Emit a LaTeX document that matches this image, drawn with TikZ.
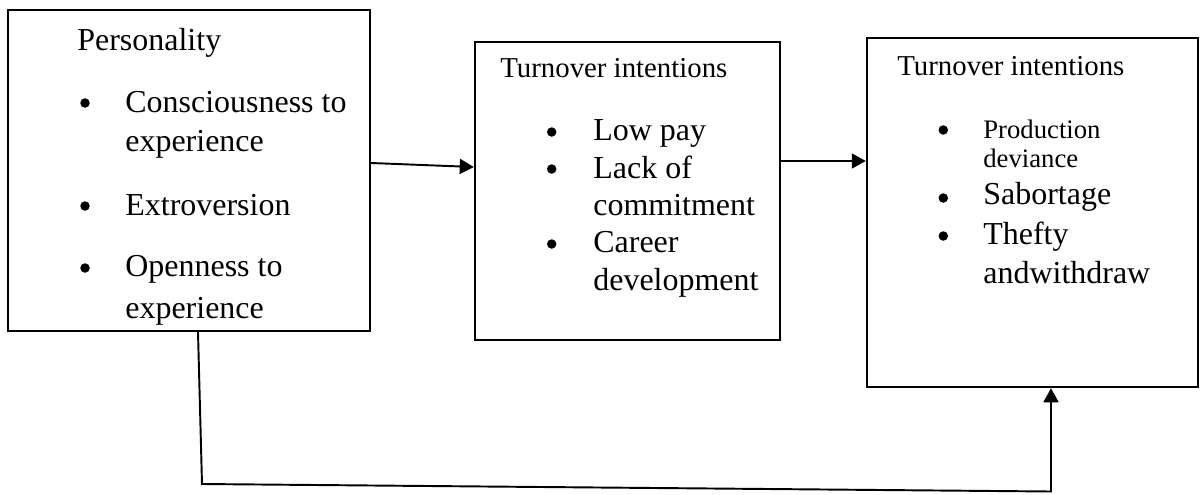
\documentclass[tikz,border=0pt]{standalone}
\usepackage{fontspec}
\setmainfont{Liberation Serif}
\usetikzlibrary{arrows.meta,calc,positioning}

\begin{document}
\begin{tikzpicture}[x=0.02cm, y=-0.02cm,
    box/.style={rectangle, draw=black, line width=1.4pt, inner sep=0pt},
    txt/.style={anchor=base west, inner sep=0pt, font=\fontsize{18.2}{22}\selectfont},
    head/.style={txt, font=\fontsize{16.4}{20}\selectfont},
    small/.style={txt, font=\fontsize{15.2}{18}\selectfont},
    dot/.style={circle, fill=black, inner sep=0pt, minimum size=0.19cm},
    link/.style={line width=1.1pt, -{Triangle[length=8pt, width=8.5pt]}}
]
\useasboundingbox (0,0) rectangle (1200,494);

% Boxes
\node[box, minimum width=7.24cm, minimum height=6.42cm] (pers) at (189,170.5) {};
\node[box, minimum width=6.1cm, minimum height=5.96cm] (turn) at (627.5,191) {};
\node[box, minimum width=6.62cm, minimum height=6.98cm] (behav) at (1032.5,212.5) {};

% Personality
\node[txt] (persT) at (77,50) {Personality};
\node[dot] (p1) at (85,103) {};
\node[txt] (p1a) at (125,112.7) {Consciousness to};
\node[txt] (p1b) at (125,151.7) {experience};
\node[dot] (p2) at (85,206) {};
\node[txt] (p2a) at (125,215) {Extroversion};
\node[dot] (p3) at (85,268) {};
\node[txt] (p3a) at (125,276.7) {Openness to};
\node[txt] (p3b) at (125,318) {experience};

% Turnover intentions (middle)
\node[head] (turnT) at (500,77) {Turnover intentions};
\node[dot] (t1) at (551.7,132) {};
\node[txt] (t1a) at (593,140.7) {Low pay};
\node[dot] (t2) at (551.7,169) {};
\node[txt] (t2a) at (593,178) {Lack of};
\node[txt] (t2b) at (593,215) {commitment};
\node[dot] (t3) at (551.7,244) {};
\node[txt] (t3a) at (593,252.7) {Career};
\node[txt] (t3b) at (593,290) {development};

% Turnover intentions (right)
\node[head] (behT) at (897,75) {Turnover intentions};
\node[dot] (b1) at (943.3,130) {};
\node[small] (b1a) at (983,138) {Production};
\node[small] (b1b) at (983,167) {deviance};
\node[dot] (b2) at (943.3,198) {};
\node[txt] (b2a) at (983,204) {Sabortage};
\node[dot] (b3) at (943.3,236) {};
\node[txt] (b3a) at (983,244) {Thefty};
\node[txt] (b3b) at (983,283) {andwithdraw};

% Arrows
\draw[link] ($(pers.east)+(0,-7.5)$) -- ($(turn.west)+(0,-24)$);
\draw[link] ($(turn.east)+(0,-30)$) -- ($(behav.west)+(0,-51.5)$);

% Link along the bottom
\coordinate (lowL) at (202,484);
\coordinate (lowR) at (1051,491.5);
\draw[link] ($(pers.south)+(9,0)$) -- (lowL) -- (lowR) -- ($(behav.south)+(18.5,0)$);

\end{tikzpicture}
\end{document}
